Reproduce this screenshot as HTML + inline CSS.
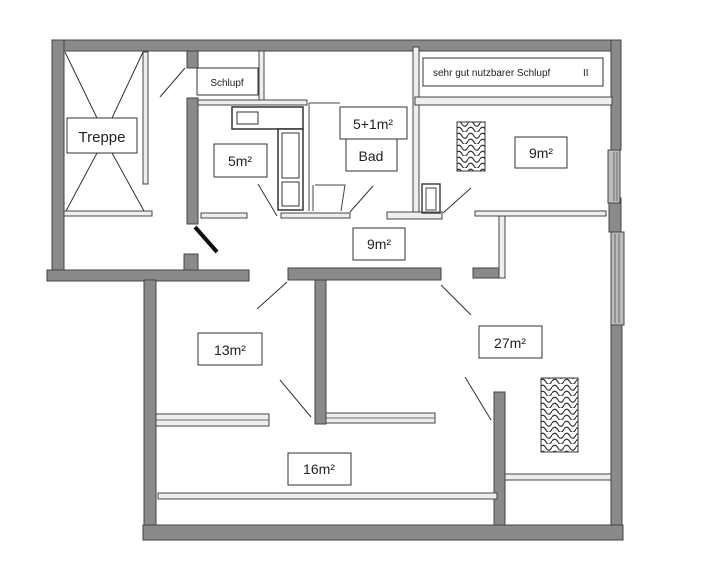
<!DOCTYPE html>
<html><head><meta charset="utf-8"><style>
html,body{margin:0;padding:0;background:#fff;}
svg{display:block;}
text{font-family:"Liberation Sans",sans-serif;fill:#222;}
</style></head><body>
<svg width="709" height="585" viewBox="0 0 709 585" xmlns="http://www.w3.org/2000/svg">
<defs>
<pattern id="h" width="12" height="12" patternUnits="userSpaceOnUse">
<rect width="12" height="12" fill="#fff"/>
<path d="M0 3 Q3 -1 6 4 T12 3 M0 9 Q3 5 6 10 T12 9" stroke="#333" stroke-width="1.2" fill="none"/>
</pattern>
</defs>
<g fill="#8a8a8a" stroke="#444" stroke-width="1">
<rect x="52" y="40" width="568" height="11"/>
<rect x="52" y="40" width="12" height="233"/>
<rect x="47" y="270" width="202" height="11"/>
<rect x="611" y="40" width="10" height="110"/>
<rect x="609" y="198" width="12" height="34"/>
<rect x="611" y="325" width="11" height="210"/>
<rect x="143" y="525" width="480" height="15"/>
<rect x="144" y="280" width="12" height="245"/>
<rect x="187" y="51" width="11" height="17"/>
<rect x="187" y="98" width="11" height="126"/>
<rect x="184" y="254" width="14" height="16"/>
<rect x="288" y="268" width="153" height="12"/>
<rect x="315" y="280" width="11" height="144"/>
<rect x="473" y="268" width="26" height="10"/>
<rect x="494" y="392" width="11" height="133"/>
</g>
<g fill="#bbb" stroke="#444" stroke-width="1">
<rect x="608" y="150" width="12" height="53"/>
<rect x="611" y="232" width="13" height="93"/>
</g>
<g stroke="#555" stroke-width="0.8">
<line x1="614" y1="152" x2="614" y2="201"/><line x1="617" y1="152" x2="617" y2="201"/>
<line x1="615" y1="234" x2="615" y2="323"/><line x1="619" y1="234" x2="619" y2="323"/>
</g>
<g fill="#eee" stroke="#444" stroke-width="1">
<rect x="143" y="52" width="5" height="132"/>
<rect x="64" y="211" width="88" height="5"/>
<rect x="259" y="51" width="5" height="49"/>
<rect x="198" y="100" width="109" height="5"/>
<rect x="201" y="213" width="46" height="5"/>
<rect x="281" y="213" width="69" height="5"/>
<rect x="413" y="47" width="6" height="165"/>
<rect x="415" y="97" width="197" height="8"/>
<rect x="387" y="212" width="55" height="7"/>
<rect x="475" y="211" width="131" height="5"/>
<rect x="499" y="216" width="6" height="62"/>
<rect x="326" y="413" width="109" height="10"/>
<rect x="156" y="414" width="113" height="12"/>
<rect x="505" y="474" width="106" height="6"/>
<rect x="158" y="493" width="339" height="6"/>
</g>
<g stroke="#444" stroke-width="0.8">
<line x1="326" y1="418" x2="435" y2="418"/>
<line x1="156" y1="420" x2="269" y2="420"/>
</g>
<g fill="#fff" stroke="#333" stroke-width="1.5">
<rect x="232" y="107" width="71" height="22"/>
<rect x="278" y="129" width="25" height="81"/>
<rect x="237" y="112" width="21" height="12" stroke-width="1"/>
<rect x="282" y="133" width="17" height="45" stroke-width="1"/>
<rect x="282" y="182" width="17" height="24" stroke-width="1"/>
</g>
<g fill="none" stroke="#444" stroke-width="1">
<line x1="309" y1="103" x2="309" y2="211"/>
<line x1="309" y1="103" x2="340" y2="103"/>
<path d="M315 185 L345 185 L341 211"/>
<line x1="313" y1="185" x2="313" y2="211"/>
<rect x="422" y="184" width="18" height="29" stroke-width="1.5"/>
<rect x="426" y="188" width="10" height="22"/>
</g>
<g stroke="#333" stroke-width="1">
<line x1="65" y1="52" x2="97" y2="118"/><line x1="143" y1="52" x2="112" y2="118"/>
<line x1="97" y1="153" x2="66" y2="211"/><line x1="112" y1="153" x2="144" y2="211"/>
</g>
<g stroke="#333" stroke-width="1">
<line x1="185" y1="68" x2="160" y2="97"/>
<line x1="258" y1="184" x2="277" y2="216"/>
<line x1="350" y1="212" x2="373" y2="186"/>
<line x1="443" y1="213" x2="471" y2="188"/>
<line x1="287" y1="282" x2="257" y2="309"/>
<line x1="441" y1="285" x2="471" y2="315"/>
<line x1="280" y1="380" x2="311" y2="417"/>
<line x1="465" y1="377" x2="491" y2="420"/>
</g>
<line x1="195" y1="227" x2="217" y2="252" stroke="#111" stroke-width="4"/>
<rect x="457" y="122" width="28" height="49" fill="url(#h)" stroke="#333"/>
<rect x="541" y="378" width="37" height="74" fill="url(#h)" stroke="#333"/>
<g fill="#fff" stroke="#333" stroke-width="1">
<rect x="67" y="118" width="70" height="35"/>
<rect x="197" y="68" width="61" height="27"/>
<rect x="423" y="58" width="180" height="28"/>
<rect x="214" y="144" width="53" height="33"/>
<rect x="340" y="107" width="67" height="32"/>
<rect x="346" y="139" width="51" height="32"/>
<rect x="515" y="137" width="52" height="31"/>
<rect x="353" y="228" width="52" height="32"/>
<rect x="198" y="333" width="64" height="32"/>
<rect x="479" y="326" width="63" height="32"/>
<rect x="288" y="453" width="63" height="32"/>
</g>
<text x="102" y="142" font-size="15" text-anchor="middle">Treppe</text>
<text x="227" y="86" font-size="10" text-anchor="middle">Schlupf</text>
<text x="433" y="76" font-size="10">sehr gut nutzbarer Schlupf</text>
<text x="583" y="76" font-size="10">II</text>
<text x="240" y="166" font-size="14" text-anchor="middle">5m²</text>
<text x="373" y="129" font-size="14" text-anchor="middle">5+1m²</text>
<text x="371" y="161" font-size="14" text-anchor="middle">Bad</text>
<text x="541" y="158" font-size="14" text-anchor="middle">9m²</text>
<text x="379" y="249" font-size="14" text-anchor="middle">9m²</text>
<text x="230" y="355" font-size="14" text-anchor="middle">13m²</text>
<text x="510" y="348" font-size="14" text-anchor="middle">27m²</text>
<text x="319" y="474" font-size="14" text-anchor="middle">16m²</text>
</svg>
</body></html>
